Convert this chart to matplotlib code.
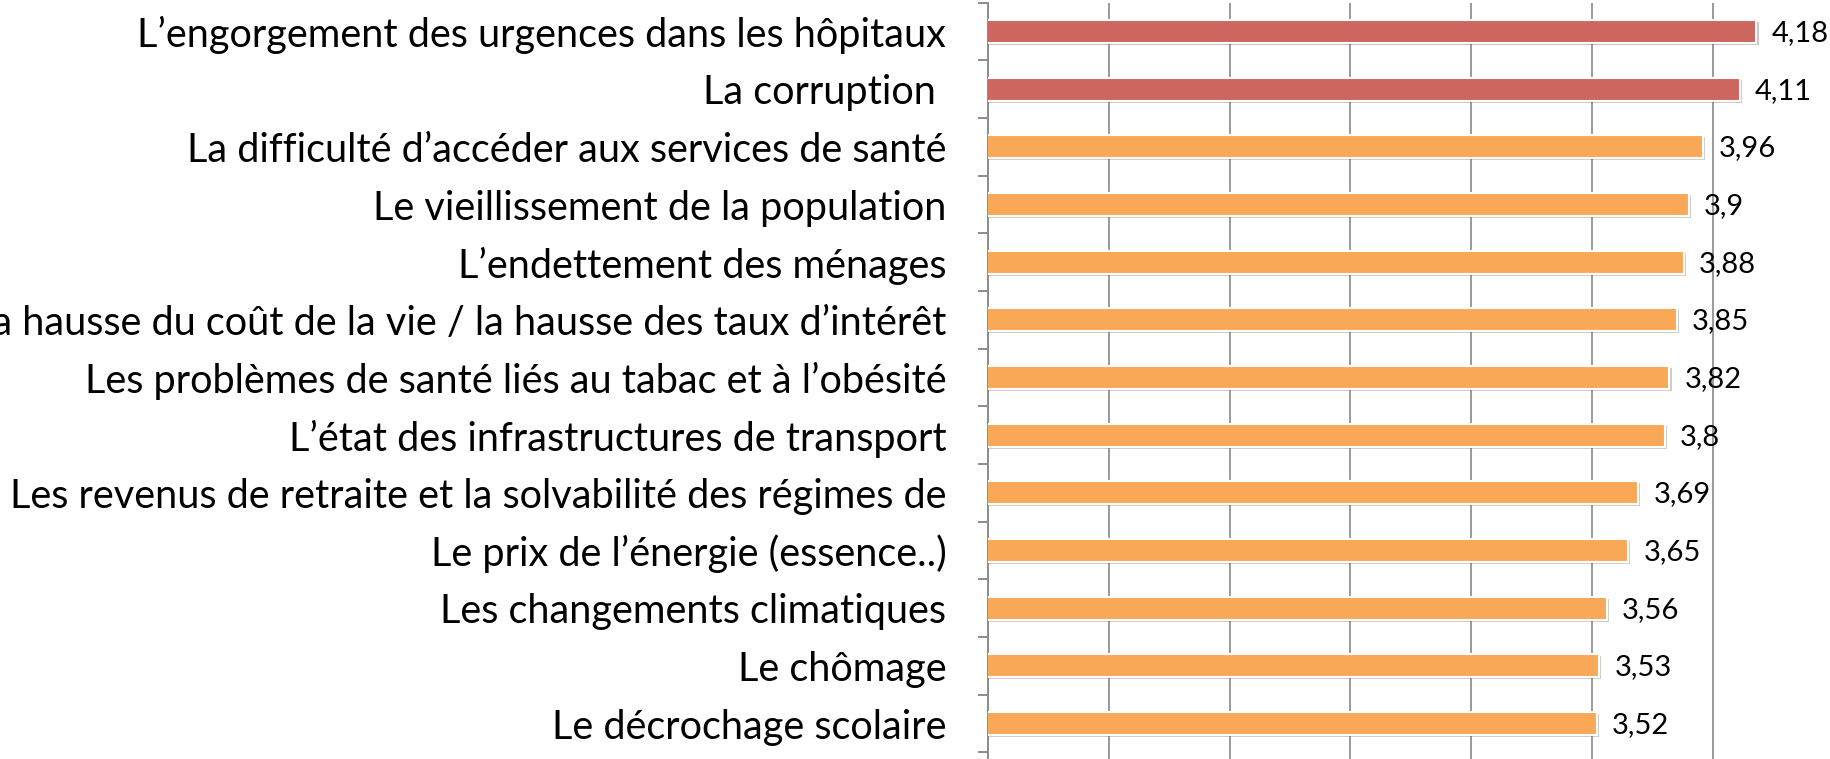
import numpy as np
import matplotlib
matplotlib.use("Agg")
import matplotlib.pyplot as plt
import matplotlib.patheffects as pe

# Data
labels = [
    "L’engorgement des urgences dans les hôpitaux",
    "La corruption ",
    "La difficulté d’accéder aux services de santé",
    "Le vieillissement de la population",
    "L’endettement des ménages",
    "La hausse du coût de la vie / la hausse des taux d’intérêt",
    "Les problèmes de santé liés au tabac et à l’obésité",
    "L’état des infrastructures de transport",
    "Les revenus de retraite et la solvabilité des régimes de",
    "Le prix de l’énergie (essence..)",
    "Les changements climatiques",
    "Le chômage",
    "Le décrochage scolaire",
]
values = [4.18, 4.11, 3.96, 3.9, 3.88, 3.85, 3.82, 3.8, 3.69, 3.65, 3.56, 3.53, 3.52]
n_top = 2  # first two bars highlighted in red

red = "#CD665F"
orange = "#F9A857"
colors = [red if i < n_top else orange for i in range(len(values))]

plt.rcParams["font.family"] = ["Lato", "DejaVu Sans"]

fig = plt.figure(figsize=(18.31, 7.59), dpi=100)
ax = fig.add_axes([0.5396, 0.0, 0.4619, 0.99644])

y = np.arange(len(values))
bars = ax.barh(y, values, height=0.4, color=colors, edgecolor="white",
               linewidth=1.5, zorder=3)
for b in bars:
    b.set_path_effects([pe.SimplePatchShadow(offset=(1.5, -1.5), alpha=0.25),
                        pe.Normal()])

for yi, v in zip(y, values):
    ax.annotate(f"{v:g}".replace(".", ","), xy=(v, yi), xytext=(11, -1),
                textcoords="offset points", va="center", ha="left",
                fontsize=21, color="black", zorder=4)

ax.set_xlim(1, 4.5)
ax.set_ylim(12.615, -0.5)
ax.set_xticks(np.arange(1, 4.51, 0.5))
ax.grid(axis="x", color="#9a9a9a", linewidth=1.4, zorder=0)
ax.tick_params(axis="x", length=0, labelbottom=False)

# category boundaries as major ticks, labels on minor ticks at the bars
ax.set_yticks(np.arange(-0.5, len(values), 1.0))
ax.set_yticklabels([])
ax.set_yticks(y, minor=True)
ax.set_yticklabels(labels, minor=True, fontsize=28.5)
ax.tick_params(axis="y", which="major", length=7, width=1.4, color="#8c8c8c")
ax.tick_params(axis="y", which="minor", length=0, pad=30)

for s in ["top", "right", "bottom"]:
    ax.spines[s].set_visible(False)
ax.spines["left"].set_color("#8c8c8c")
ax.spines["left"].set_linewidth(1.4)

fig.savefig("out.png", dpi=100)
